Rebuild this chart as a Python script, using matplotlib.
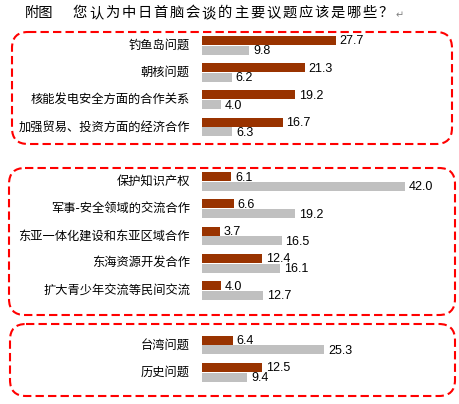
import matplotlib.pyplot as plt
from matplotlib.patches import FancyBboxPatch

plt.rcParams['font.family'] = ['Noto Sans CJK SC', 'DejaVu Sans']

title_lead = "附图"
title_text = "您认为中日首脑会谈的主要议题应该是哪些？"

categories = [
    "钓鱼岛问题", "朝核问题", "核能发电安全方面的合作关系", "加强贸易、投资方面的经济合作",
    "保护知识产权", "军事-安全领域的交流合作", "东亚一体化建设和东亚区域合作",
    "东海资源开发合作", "扩大青少年交流等民间交流",
    "台湾问题", "历史问题",
]
china = [27.7, 21.3, 19.2, 16.7, 6.1, 6.6, 3.7, 12.4, 4.0, 6.4, 12.5]
japan = [9.8, 6.2, 4.0, 6.3, 42.0, 19.2, 16.5, 16.1, 12.7, 25.3, 9.4]
# row slot of each category (empty slot between groups)
slots = [0, 1, 2, 3, 5, 6, 7, 8, 9, 11, 12]

W, H = 460, 404
fig = plt.figure(figsize=(W / 100, H / 100), dpi=100)

# background axes in pixel coordinates for frames and title
bg = fig.add_axes([0, 0, 1, 1])
bg.set_xlim(0, W)
bg.set_ylim(H, 0)
bg.axis("off")

for x0, y0, x1, y1 in [(12, 32, 452, 144), (9, 168, 455, 315), (10, 324, 455, 396)]:
    bg.add_patch(FancyBboxPatch(
        (x0, y0), x1 - x0, y1 - y0,
        boxstyle="round,pad=0,rounding_size=16",
        fill=False, edgecolor="#FF0000", linewidth=1.5,
        linestyle=(0, (4, 2)),
    ))

bg.text(25, 13, title_lead, fontsize=10.3, ha="left", va="center")
for i, ch in enumerate(title_text):
    bg.text(73 + i * 16.1, 13, ch, fontsize=10.3, ha="left", va="center")
bg.text(396, 15, "↵", fontsize=7, color="#808080", ha="left", va="center")

# bar axes
scale = 4.83  # px per percent
x_left = 202
ax = fig.add_axes([x_left / W, 0, (W - x_left) / W, 1])
ax.set_xlim(0, (W - x_left) / scale)
ax.set_ylim(H, 0)
ax.axis("off")

y_centers = [45.3 + s * 27.25 for s in slots]
bh = 9
off = 4.9
ax.barh([y - off for y in y_centers], china, height=bh, color="#993300")
ax.barh([y + off for y in y_centers], japan, height=bh, color="#C0C0C0")

for y, lab, c, j in zip(y_centers, categories, china, japan):
    ax.text(-12 / scale, y, lab, fontsize=8.8, ha="right", va="center", clip_on=False)
    ax.text(c + 0.8, y - off + 1, f"{c:.1f}", fontsize=9, family="Liberation Sans",
            ha="left", va="center")
    ax.text(j + 0.8, y + off + 1, f"{j:.1f}", fontsize=9, family="Liberation Sans",
            ha="left", va="center")

fig.savefig("out.png", dpi=100)
